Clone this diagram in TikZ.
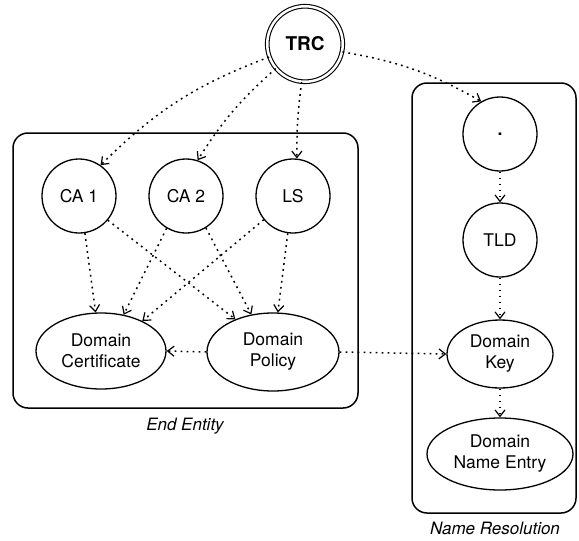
\documentclass[tikz,border=0pt]{standalone}
\usepackage{fontspec}
\setmainfont{TeX Gyre Heros}
\usetikzlibrary{arrows.meta,shapes.geometric}
\begin{document}
\begin{tikzpicture}[x=1pt,y=-1pt,
  every node/.style={font=\fontsize{17.5}{21}\selectfont, inner sep=0pt},
  circ/.style={draw, circle, line width=1.3pt, minimum size=74pt},
  ell/.style={draw, ellipse, line width=1.3pt, align=center},
  grp/.style={draw, rounded corners=15pt, line width=1.5pt},
  dep/.style={line width=1.5pt, dash pattern=on 1.8pt off 4.2pt,
    -{Straight Barb[length=6.5pt,width=10pt,line width=1.2pt]}},
  lbl/.style={font=\fontsize{17}{20}\selectfont\itshape}]
\useasboundingbox (0,0) rectangle (579,541);

% groups
\node[grp, minimum width=345pt, minimum height=275pt] (ee) at (185.5,270.5) {};
\node[grp, minimum width=164pt, minimum height=430pt] (nr) at (494,298) {};
\node[lbl] (eel) at (185,426) {End Entity};
\node[lbl] (nrl) at (495,528) {Name Resolution};

% nodes
\node[draw, circle, double, double distance=2.5pt, line width=1.1pt, minimum size=75.5pt,
  font=\fontsize{19}{21}\selectfont\bfseries] (trc) at (305,44) {TRC};
\node[circ] (ca1) at (79,196) {CA 1};
\node[circ] (ca2) at (186,196) {CA 2};
\node[circ] (ls) at (293,196) {LS};
\node[ell, minimum width=130pt, minimum height=76pt] (dc) at (101,351) {Domain\\Certificate};
\node[ell, minimum width=132pt, minimum height=78pt] (dp) at (273,352) {Domain\\Policy};
\node[circ] (root) at (500,134) {\bfseries .};
\node[circ] (tld) at (500,240) {TLD};
\node[ell, minimum width=106pt, minimum height=68pt] (dk) at (500,354) {Domain\\Key};
\node[ell, minimum width=146pt, minimum height=72pt] (dne) at (500,454) {Domain\\Name Entry};

% edges
\draw[dep] (trc.-160) to[bend right=12] (ca1.55);
\draw[dep] (trc.-140) to[bend right=8] (ca2.72);
\draw[dep] (trc.-95) to[bend right=4] (ls.84);
\draw[dep] (trc.-12) to[bend left=10] (root.120);
\draw[dep] (ca1.-81) -- (dc.98);
\draw[dep] (ca1.-40) -- (dp.139);
\draw[dep] (ca2.-121) -- (dc.58);
\draw[dep] (ca2.-58) -- (dp.120);
\draw[dep] (ls.-141) -- (dc.36);
\draw[dep] (ls.-98) -- (dp.83);
\draw[dep] (dp.west) -- (dc.east);
\draw[dep] (dp.east) -- (dk.west);
\draw[dep] (root) -- (tld);
\draw[dep] (tld) -- (dk);
\draw[dep] (dk) -- (dne);
\end{tikzpicture}
\end{document}
